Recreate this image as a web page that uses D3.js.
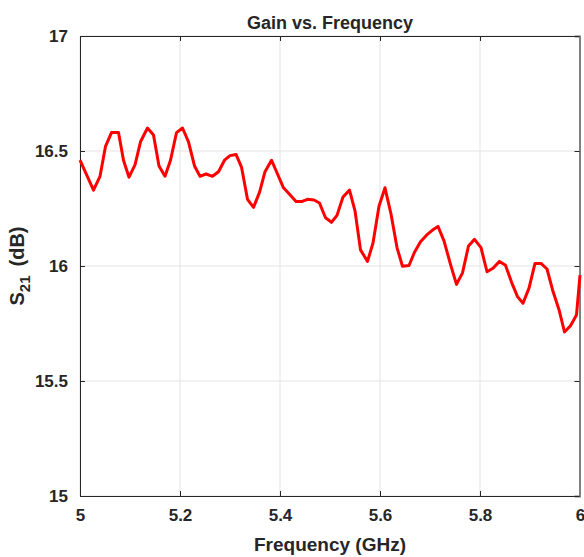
<!DOCTYPE html>
<html>
<head>
<meta charset="utf-8">
<script src="https://cdn.jsdelivr.net/npm/d3@7"></script>
<style>
    body { margin: 0; background: #fff; }
    text { font-family: "Liberation Sans", Arial, sans-serif; font-weight: bold; fill: #262626; }
</style>
</head>
<body>
<div id="chart"></div>
<script>
// frequency (GHz) and S21 (dB)
var freq = [5.000, 5.027, 5.040, 5.051, 5.063, 5.077, 5.087, 5.098, 5.110, 5.121,
    5.135, 5.147, 5.158, 5.170, 5.181, 5.193, 5.205, 5.217, 5.229, 5.240,
    5.252, 5.265, 5.277, 5.289, 5.300, 5.312, 5.323, 5.335, 5.347, 5.359,
    5.370, 5.383, 5.395, 5.407, 5.420, 5.432, 5.443, 5.455, 5.468, 5.479,
    5.491, 5.503, 5.514, 5.526, 5.539, 5.550, 5.561, 5.575, 5.586, 5.598,
    5.610, 5.622, 5.634, 5.645, 5.658, 5.669, 5.681, 5.693, 5.705, 5.716,
    5.728, 5.741, 5.753, 5.765, 5.777, 5.789, 5.802, 5.814, 5.826, 5.839,
    5.851, 5.863, 5.875, 5.886, 5.898, 5.910, 5.922, 5.934, 5.945, 5.958,
    5.969, 5.981, 5.993, 6.000];
var s21 = [16.46, 16.33, 16.39, 16.52, 16.58, 16.58, 16.46, 16.386, 16.44, 16.54,
    16.60, 16.57, 16.435, 16.39, 16.46, 16.58, 16.60, 16.54, 16.435, 16.39,
    16.40, 16.39, 16.41, 16.46, 16.48, 16.485, 16.43, 16.29, 16.255, 16.32,
    16.41, 16.46, 16.40, 16.34, 16.31, 16.28, 16.28, 16.29, 16.287, 16.274,
    16.21, 16.19, 16.22, 16.30, 16.33, 16.24, 16.07, 16.02, 16.10, 16.26,
    16.34, 16.226, 16.08, 15.999, 16.002, 16.06, 16.105, 16.134, 16.156, 16.172,
    16.109, 16.007, 15.92, 15.97, 16.087, 16.116, 16.08, 15.975, 15.99, 16.02,
    16.003, 15.93, 15.867, 15.838, 15.904, 16.011, 16.011, 15.987, 15.897, 15.81,
    15.713, 15.74, 15.787, 15.96];
var xTicks = [5, 5.2, 5.4, 5.6, 5.8, 6];
var yTicks = [15, 15.5, 16, 16.5, 17];

var data = freq.map(function (f, i) { return [f, s21[i]]; });

var svg = d3.select("#chart").append("svg")
    .attr("width", 584)
    .attr("height", 557);

var pLeft = 80, pRight = 580, pTop = 36, pBottom = 496;
var xscale = d3.scaleLinear().domain([5, 6]).range([pLeft, pRight]);
var yscale = d3.scaleLinear().domain([15, 17]).range([pBottom, pTop]);

//grid lines
svg.append("g").selectAll("line").data(xTicks).enter().append("line")
    .attr("x1", function (d) { return xscale(d); })
    .attr("x2", function (d) { return xscale(d); })
    .attr("y1", pTop).attr("y2", pBottom)
    .attr("stroke", "#e3e3e3").attr("stroke-width", 1);
svg.append("g").selectAll("line").data(yTicks).enter().append("line")
    .attr("x1", pLeft).attr("x2", pRight)
    .attr("y1", function (d) { return yscale(d); })
    .attr("y2", function (d) { return yscale(d); })
    .attr("stroke", "#e3e3e3").attr("stroke-width", 1);

//axes, ticks pointing inward like matlab
var xAxis = d3.axisBottom(xscale).tickValues(xTicks).tickSize(-5).tickPadding(13)
    .tickFormat(function (d) { return d3.format("")(d); });
var yAxis = d3.axisLeft(yscale).tickValues(yTicks).tickSize(-5).tickPadding(12)
    .tickFormat(function (d) { return d3.format("")(d); });

svg.append("g").attr("transform", "translate(0," + pBottom + ")").call(xAxis);
svg.append("g").attr("transform", "translate(" + pLeft + ",0)").call(yAxis);
svg.append("g").attr("transform", "translate(0," + pTop + ")")
    .call(d3.axisTop(xscale).tickValues(xTicks).tickSize(-5).tickFormat(""));
svg.append("g").attr("class", "rightAxis").attr("transform", "translate(" + (pRight - 0.5) + ",0)")
    .call(d3.axisRight(yscale).tickValues(yTicks).tickSize(-5).tickFormat(""));

svg.selectAll(".domain").attr("stroke", "#262626").attr("stroke-width", 1);
svg.select(".rightAxis .domain").attr("stroke", "#808080").attr("stroke-width", 2);
svg.selectAll(".tick line").attr("stroke", "#262626");
svg.selectAll(".tick text").style("font-size", "17px").style("font-family", "Liberation Sans, Arial, sans-serif")
    .style("font-weight", "bold").attr("fill", "#262626");

//the curve
svg.append("path")
    .datum(data)
    .attr("fill", "none")
    .attr("stroke", "#ff0000")
    .attr("stroke-width", 3)
    .attr("stroke-linejoin", "round")
    .attr("d", d3.line()
        .x(function (d) { return xscale(d[0]); })
        .y(function (d) { return yscale(d[1]); }));

//title and labels
svg.append("text")
    .attr("x", (pLeft + pRight) / 2).attr("y", 29)
    .attr("text-anchor", "middle")
    .style("font-size", "18px")
    .attr("fill", "#000")
    .text("Gain vs. Frequency");

svg.append("text")
    .attr("x", (pLeft + pRight) / 2).attr("y", 551)
    .attr("text-anchor", "middle")
    .style("font-size", "19px")
    .text("Frequency (GHz)");

var ylab = svg.append("text")
    .attr("transform", "translate(24," + (pTop + pBottom) / 2 + ") rotate(-90)")
    .attr("text-anchor", "middle")
    .style("font-size", "20px");
ylab.append("tspan").text("S");
ylab.append("tspan").attr("dy", 6).style("font-size", "15px").text("21");
ylab.append("tspan").attr("dy", -6).attr("dx", 9).text("(dB)");
</script>
</body>
</html>
